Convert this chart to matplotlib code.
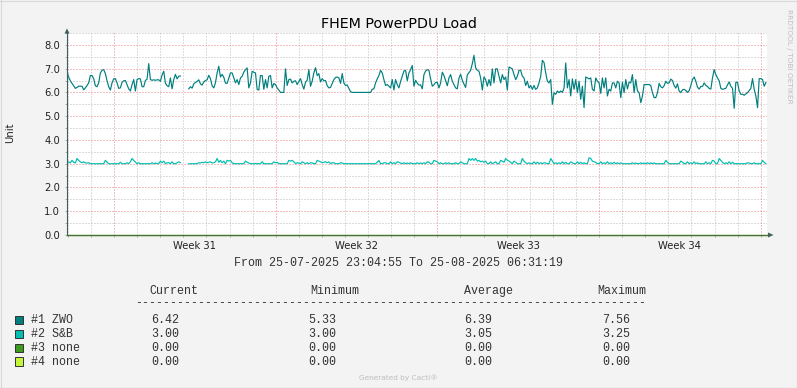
import matplotlib
matplotlib.use("Agg")
import matplotlib.pyplot as plt
import matplotlib.dates as mdates
import matplotlib.transforms as mtransforms
from matplotlib.lines import Line2D
from matplotlib.patches import Polygon, Rectangle
from datetime import datetime, timedelta
import numpy as np

# ---------------- data ----------------
start = datetime(2025, 7, 25, 23, 4, 55)
end = datetime(2025, 8, 25, 6, 31, 19)
step_minutes = 104

zwo = [
    6.89, 6.64, 6.49, 6.38, 6.28, 6.17, 6.21, 6.26, 6.26, 6.26,
    6.11, 6.19, 6.29, 6.40, 6.71, 6.71, 6.58, 6.28, 6.24, 6.40,
    6.82, 6.93, 6.96, 6.79, 6.49, 6.24, 6.10, 6.40, 6.57, 6.58,
    6.40, 6.17, 6.19, 6.42, 6.49, 6.50, 6.33, 6.15, 6.06, 6.33,
    6.54, 6.06, 6.54, 6.58, 6.57, 6.24, 6.24, 6.50, 6.56, 7.21,
    6.54, 6.51, 6.53, 6.51, 6.53, 6.53, 6.47, 6.74, 6.89, 6.39,
    6.28, 6.24, 6.61, 6.15, 6.54, 6.76, 6.57, 6.68, 6.69,
    np.nan, np.nan, np.nan, np.nan,
    6.15, 6.24, 6.18, 6.36, 6.42, 6.46, 6.53, 6.36, 6.31, 6.44,
    6.50, 6.53, 6.72, 6.58, 6.28, 6.19, 6.40, 6.82, 7.10, 6.65,
    6.76, 6.64, 6.39, 6.38, 6.60, 6.82, 6.82, 6.61, 6.40, 6.54,
    6.33, 6.61, 6.68, 6.85, 6.96, 7.03, 6.19, 6.40, 6.89, 6.85,
    6.82, 6.13, 6.10, 6.71, 6.71, 6.13, 6.54, 6.19, 6.68, 6.71,
    6.19, 6.38, 6.33, 6.19, 6.10, 6.00, 6.00, 6.00, 6.99, 6.29,
    6.54, 6.56, 6.40, 6.47, 6.49, 6.33, 6.46, 6.58, 6.33, 6.14,
    6.43, 6.51, 6.96, 6.26, 6.47, 6.82, 7.04, 6.71, 6.79, 6.44,
    6.58, 6.49, 6.50, 6.28, 6.19, 6.21, 6.38, 6.54, 6.63, 6.65,
    6.61, 6.38, 6.79, 6.40, 6.29, 6.31, 6.17, 6.03, 6.00, 6.00,
    6.00, 6.00, 6.00, 6.00, 6.00, 6.00, 6.00, 6.00, 6.00, 6.00,
    6.13, 6.15, 6.40, 6.57, 6.71, 6.93, 6.82, 6.54, 6.29, 6.33,
    6.26, 6.19, 6.54, 6.10, 6.54, 6.33, 6.19, 6.46, 6.68, 6.90,
    6.93, 6.49, 6.82, 6.96, 7.13, 6.26, 6.51, 6.39, 6.31, 6.32,
    6.15, 6.75,
    6.90, 6.96, 6.93, 6.57, 6.26, 6.32, 6.42, 6.42, 6.19, 6.40,
    6.85, 6.71, 6.49, 6.28, 6.61, 6.75, 6.47, 6.33, 6.19, 6.15,
    6.60, 6.76, 6.51, 6.35, 6.21, 6.74, 6.83, 6.93, 7.21, 7.56,
    7.03, 6.93, 6.89, 6.61, 6.10, 6.65, 6.54, 6.26, 6.54, 6.29,
    6.99, 6.40, 6.99, 6.99, 6.68, 6.40, 6.75, 6.54, 6.65, 6.10,
    7.07, 7.03, 6.99, 6.75, 6.54, 6.68, 6.93, 6.93, 6.68, 6.61,
    6.29, 6.47, 6.19, 6.29, 6.13, 6.29, 6.13, 6.19, 6.40, 6.68,
    7.35, 7.26,
    6.82, 6.47, 6.40, 6.54, 5.50, 5.99, 5.92, 6.06, 5.99, 6.06,
    6.00, 6.19, 7.24, 6.19, 6.54, 5.85, 6.57, 6.13, 6.54, 5.99,
    6.47, 5.71, 6.26, 5.36, 6.65, 6.61, 6.57, 6.61, 6.13, 6.06,
    6.61, 6.47, 6.40, 5.96, 6.61, 6.19, 6.61, 5.85, 6.13, 6.06,
    6.40, 6.40, 6.19, 6.47, 6.40, 5.78, 6.43, 5.99, 6.54, 6.15,
    6.43, 6.40, 6.75, 5.99, 6.54, 6.06, 5.99, 5.57, 5.85, 6.33,
    6.33, 6.33, 6.33, 6.29, 5.99, 5.78, 5.78, 5.99, 6.38, 6.24,
    6.19, 6.28,
    6.47, 6.38, 6.40, 6.56, 6.50, 6.29, 6.18, 6.36, 6.06, 5.99,
    6.11, 6.13, 6.08, 6.00, 6.07, 6.29, 6.54, 6.65, 6.47, 6.22,
    6.14, 6.25, 6.25, 6.40, 6.29, 6.25, 6.17, 6.14, 6.61, 6.96,
    6.75, 6.61, 6.49, 6.17, 6.13, 6.15, 6.17, 6.32, 6.44, 6.26,
    6.17, 5.33, 6.43, 6.42, 6.06, 5.92, 5.92, 5.88, 5.94, 5.99,
    6.08, 6.17, 6.58, 6.13, 5.85, 5.36, 6.58, 6.58, 6.54, 6.26,
    6.42,
]

snb = [
    3.04, 3.08, 3.03, 3.14, 3.06, 3.03, 3.22, 3.14, 3.08, 3.04, 3.08, 3.03, 3.03, 3.04, 3.00, 3.00, 3.00, 3.00, 3.00, 3.00,
    3.00, 3.00, 3.00, 3.14, 3.06, 3.00, 3.00, 3.00, 3.00, 3.00, 3.00, 3.00, 3.06, 3.00, 3.00, 3.00, 3.04, 3.00, 3.08, 3.22,
    3.14, 3.07, 3.00, 3.04, 3.00, 3.00, 3.00, 3.00, 3.00, 3.00, 3.00, 3.04, 3.00, 3.03, 3.00, 3.00, 3.11, 3.04, 3.11, 3.00,
    3.04, 3.04, 3.00, 3.08, 3.00, 3.00, 3.04, 3.08, 3.04, np.nan, np.nan, np.nan, np.nan, 3.00, 3.00, 3.00, 3.00, 3.00, 3.00, 3.04,
    3.03, 3.06, 3.04, 3.08, 3.04, 3.06, 3.08, 3.03, 3.04, 3.08, 3.22, 3.06, 3.14, 3.04, 3.11, 3.00, 3.14, 3.11, 3.14, 3.04,
    3.00, 3.00, 3.00, 3.00, 3.00, 3.00, 3.00, 3.11, 3.06, 3.03, 3.00, 3.00, 3.00, 3.00, 3.00, 3.00, 3.00, 3.08, 3.00, 3.00,
    3.00, 3.00, 3.00, 3.00, 3.08, 3.04, 3.06, 3.00, 3.00, 3.00, 3.00, 3.00, 3.00, 3.14, 3.11, 3.14, 3.08, 3.00, 3.04, 3.03,
    3.00, 3.08, 3.04, 3.00, 3.04, 3.00, 3.04, 3.03, 3.00, 3.00, 3.14, 3.11, 3.08, 3.04, 3.06, 3.08, 3.04, 3.08, 3.00, 3.04,
    3.04, 3.00, 3.00, 3.00, 3.04, 3.03, 3.00, 3.00, 3.00, 3.00, 3.00, 3.00, 3.00, 3.00, 3.00, 3.00, 3.00, 3.00, 3.00, 3.00,
    3.00, 3.00, 3.00, 3.00, 3.00, 3.00, 3.06, 3.14, 3.00, 3.00, 3.04, 3.04, 3.00, 3.00, 3.08, 3.00, 3.04, 3.00, 3.08, 3.06,
    3.03, 3.00, 3.04, 3.00, 3.03, 3.00, 3.04, 3.00, 3.00, 3.00, 3.04, 3.00, 3.03, 3.00, 3.04, 3.00, 3.08, 3.06, 3.00, 3.00,
    3.14, 3.11, 3.08, 3.00, 3.04, 3.00, 3.00, 3.04, 3.00, 3.04, 3.00, 3.00, 3.00, 3.04, 3.00, 3.00, 3.08, 3.04, 3.00, 3.00,
    3.00, 3.22, 3.14, 3.22, 3.14, 3.22, 3.11, 3.14, 3.08, 3.11, 3.06, 3.11, 3.00, 3.00, 3.08, 3.00, 3.04, 3.08, 3.00, 3.00,
    3.14, 3.11, 3.06, 3.22, 3.14, 3.11, 3.06, 3.00, 3.11, 3.06, 3.00, 3.00, 3.00, 3.22, 3.11, 3.04, 3.00, 3.04, 3.00, 3.00,
    3.08, 3.00, 3.06, 3.00, 3.04, 3.00, 3.04, 3.03, 3.00, 3.00, 3.22, 3.11, 3.00, 3.04, 3.00, 3.04, 3.00, 3.08, 3.00, 3.06,
    3.00, 3.00, 3.08, 3.04, 3.00, 3.00, 3.08, 3.00, 3.06, 3.00, 3.04, 3.00, 3.00, 3.25, 3.22, 3.11, 3.08, 3.06, 3.00, 3.00,
    3.08, 3.00, 3.04, 3.00, 3.08, 3.00, 3.04, 3.00, 3.06, 3.00, 3.04, 3.00, 3.04, 3.00, 3.00, 3.00, 3.00, 3.00, 3.00, 3.04,
    3.00, 3.03, 3.00, 3.00, 3.04, 3.00, 3.03, 3.00, 3.04, 3.00, 3.04, 3.00, 3.03, 3.00, 3.00, 3.00, 3.00, 3.00, 3.00, 3.14,
    3.06, 3.00, 3.00, 3.00, 3.00, 3.00, 3.00, 3.00, 3.11, 3.06, 3.00, 3.00, 3.08, 3.00, 3.04, 3.00, 3.08, 3.00, 3.04, 3.00,
    3.00, 3.00, 3.00, 3.08, 3.00, 3.04, 3.00, 3.14, 3.11, 3.00, 3.00, 3.22, 3.14, 3.06, 3.00, 3.04, 3.00, 3.08, 3.00, 3.06,
    3.00, 3.00, 3.00, 3.00, 3.00, 3.00, 3.00, 3.00, 3.04, 3.03, 3.00, 3.00, 3.04, 3.00, 3.00, 3.00, 3.00, 3.14, 3.06, 3.00,
]

none3 = [0.00, 0.00]
none4 = [0.00, 0.00]

series_labels = ["#1 ZWO", "#2 S&B", "#3 none", "#4 none"]
series_colors = ["#007F7F", "#00BFB0", "#3E9A1A", "#C4F53D"]
cur_vals = [6.42, 3.00, 0.00, 0.00]
min_vals = [5.33, 3.00, 0.00, 0.00]
avg_vals = [6.39, 3.05, 0.00, 0.00]
max_vals = [7.56, 3.25, 0.00, 0.00]

week_starts = [datetime(2025, 7, 28), datetime(2025, 8, 4), datetime(2025, 8, 11),
               datetime(2025, 8, 18), datetime(2025, 8, 25)]
week_labels = ["Week 31", "Week 32", "Week 33", "Week 34"]
y_ticks = [0, 1, 2, 3, 4, 5, 6, 7, 8]

# ---------------- layout helpers ----------------
W, H = 797, 388
def fx(px):
    return px / W
def fy(py):
    return 1 - py / H

plt.rcParams["font.family"] = ["DejaVu Sans"]
fig = plt.figure(figsize=(W / 100, H / 100), dpi=100)
fig.patch.set_facecolor("#F3F3F3")

ax = fig.add_axes([fx(67), fy(235), 700 / W, 202 / H])
ax.set_facecolor("white")
for s in ax.spines.values():
    s.set_visible(False)

t0 = mdates.date2num(start)
t1 = mdates.date2num(end)
times = [mdates.date2num(start + timedelta(minutes=step_minutes * i)) for i in range(len(zwo))]

ax.set_xlim(t0, t1)
ax.set_ylim(0, 8.4167)

# grid
days = []
d = datetime(2025, 7, 26)
while d <= end:
    days.append(mdates.date2num(d))
    d += timedelta(days=1)
ax.set_xticks([mdates.date2num(w) for w in week_starts])
ax.set_xticks(days, minor=True)
ax.set_yticks(y_ticks)
ax.set_yticks([v + 0.5 for v in y_ticks], minor=True)
ax.set_yticklabels(["%.1f" % v for v in y_ticks])
ax.tick_params(axis="x", which="both", length=1.5, width=0.7, color="#AAAAAA",
               labelbottom=False)
ax.tick_params(axis="y", which="both", length=1.5, width=0.7, color="#AAAAAA",
               labelsize=7.2, labelcolor="#222222", pad=3.5)
ax.grid(True, which="minor", color="#BDBDBD", linestyle=(0, (1, 2)), linewidth=0.72)
ax.grid(True, which="major", color="#E68282", linestyle=(0, (1, 2)), linewidth=0.72)
ax.set_axisbelow(True)

# week labels at mid-week
blend = mtransforms.blended_transform_factory(ax.transData, fig.transFigure)
for i, lab in enumerate(week_labels):
    mid = mdates.date2num(week_starts[i] + timedelta(days=3, hours=12))
    ax.text(mid, fy(248.8), lab, transform=blend,
            ha="center", va="baseline", fontsize=7.2, color="#222222")

# data lines
ax.plot(times, snb, color=series_colors[1], lw=0.85, zorder=3)
ax.plot(times, zwo, color=series_colors[0], lw=0.85, zorder=4)
ax.plot([t0, t1], none3, color=series_colors[2], lw=1.0, zorder=5, clip_on=False)
ax.plot([t0, t1], none4, color=series_colors[3], lw=0.5, zorder=5, clip_on=False)

# axes with arrows (figure pixel coordinates)
axis_color = "#3F5F5F"
fig.add_artist(Line2D([fx(67), fx(67)], [fy(235.5), fy(31)], color=axis_color, lw=0.8))
fig.add_artist(Line2D([fx(66.5), fx(769)], [fy(235), fy(235)], color="#4E6E3A", lw=0.8))
fig.add_artist(Polygon([[fx(64.5), fy(33.5)], [fx(69.5), fy(33.5)], [fx(67), fy(28.5)]],
                       closed=True, color=axis_color, lw=0))
fig.add_artist(Polygon([[fx(768), fy(232.5)], [fx(768), fy(237.5)], [fx(773.5), fy(235)]],
                       closed=True, color=axis_color, lw=0))

# image frame
fig.add_artist(Line2D([0, 1], [fy(0.5), fy(0.5)], color="#D8D8D8", lw=0.8))
fig.add_artist(Line2D([fx(0.5), fx(0.5)], [0, 1], color="#D8D8D8", lw=0.8))
fig.add_artist(Line2D([0, 1], [fy(387.5), fy(387.5)], color="#9A9A9A", lw=0.8))
fig.add_artist(Line2D([fx(796.5), fx(796.5)], [0, 1], color="#9A9A9A", lw=0.8))

# texts
fig.text(fx(398.5), fy(28.3), "FHEM PowerPDU Load", ha="center", va="baseline",
         fontsize=10.3, color="#000000")
fig.text(fx(10.5), fy(133), "Unit", rotation=90, ha="center", va="center",
         fontsize=7.2, color="#222222")
fig.text(fx(788.5), fy(56), "RRDTOOL / TOBI OETIKER", rotation=270, ha="center", va="center",
         fontsize=5.3, color="#BDBDBD")

mono = "Liberation Mono"
txt_color = "#333333"
fig.text(fx(398), fy(266.5), "From %s To %s" % (start.strftime("%d-%m-%Y %H:%M:%S"),
                                               end.strftime("%d-%m-%Y %H:%M:%S")),
         ha="center", va="baseline", fontsize=8.4, family=mono, color=txt_color)

col_x = [149, 310, 464, 597]
val_x = [151, 308, 464, 602]
headers = ["Current", "Minimum", "Average", "Maximum"]
for x, h in zip(col_x, headers):
    fig.text(fx(x), fy(294.3), h, ha="left", va="baseline", fontsize=8.4, family=mono, color=txt_color)
fig.text(fx(135), fy(306), "-" * 73, ha="left", va="baseline", fontsize=8.4, family=mono, color=txt_color)

for r in range(4):
    base = 323.3 + 13.9 * r
    fig.add_artist(Rectangle((fx(15), fy(base + 0.7)), 8 / W, 8.3 / H,
                             facecolor=series_colors[r], edgecolor="#333333", lw=0.7))
    fig.text(fx(31), fy(base), series_labels[r], ha="left", va="baseline", fontsize=8.4,
             family=mono, color=txt_color)
    for x, vals in zip(val_x, [cur_vals, min_vals, avg_vals, max_vals]):
        fig.text(fx(x), fy(base), "%.2f" % vals[r], ha="left", va="baseline", fontsize=8.4,
                 family=mono, color=txt_color)

fig.text(fx(398), fy(380), "Generated by Cacti®", ha="center", va="baseline",
         fontsize=5.3, color="#BDBDBD")

fig.savefig("out.png", dpi=100, facecolor=fig.get_facecolor())
